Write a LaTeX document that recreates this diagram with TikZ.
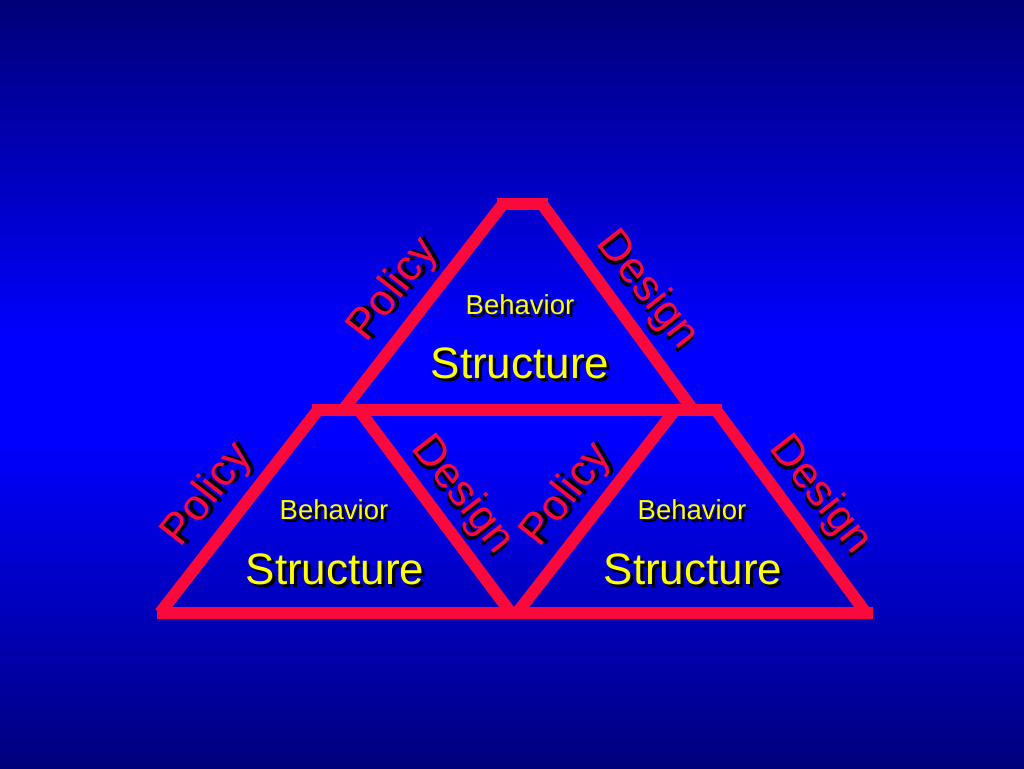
\documentclass[tikz,border=0pt]{standalone}
\usepackage{fontspec}
\setmainfont{Liberation Sans}
\definecolor{navybg}{RGB}{0,0,120}
\definecolor{bluebg}{RGB}{0,0,255}
\definecolor{wallred}{RGB}{250,10,60}
\definecolor{txtyellow}{RGB}{255,255,0}
\tikzset{
  wall/.style={draw=wallred, line width=12pt},
  lbl/.style={inner sep=0pt, outer sep=0pt, anchor=center},
}
\newcommand\shlabel[6]{%
  \node[lbl, text=black, rotate=#3, font=\fontsize{#4}{#4}\selectfont, xshift=3pt, yshift=-3pt] (#1s) at (#2) {#6};
  \node[lbl, text=#5, rotate=#3, font=\fontsize{#4}{#4}\selectfont] (#1) at (#2) {#6};
}
\begin{document}
\begin{tikzpicture}[x=1pt,y=-1pt]
\useasboundingbox (0,0) rectangle (1024,768);
% background gradient as thin bands
\foreach \i in {0,...,191}{
  \pgfmathsetmacro\yy{\i*4}
  \pgfmathsetmacro\tt{max(0,min(100,100*(1-abs(\yy+2-390)/390)*1.15))}
  \fill[bluebg!\tt!navybg] (0,\yy) rectangle (1024,\yy+4.6);
}
% coordinates
\coordinate (tb1) at (497,204);
\coordinate (tb2) at (548,204);
\coordinate (tl1) at (503,204);
\coordinate (tl2) at (343,410);
\coordinate (tr1) at (542,204);
\coordinate (tr2) at (693,410);
\coordinate (mb1) at (312,410);
\coordinate (mb2) at (722,410);
\coordinate (ll1) at (318,410);
\coordinate (ll2) at (160,613);
\coordinate (lr1) at (359,410);
\coordinate (lr2) at (511,613);
\coordinate (rl1) at (675,410);
\coordinate (rl2) at (517,613);
\coordinate (rr1) at (716,410);
\coordinate (rr2) at (866,613);
\coordinate (bb1) at (157,613);
\coordinate (bb2) at (873,613);
% walls
\draw[wall] (tl1) -- (tl2);
\draw[wall] (tr1) -- (tr2);
\draw[wall] (ll1) -- (ll2);
\draw[wall] (lr1) -- (lr2);
\draw[wall] (rl1) -- (rl2);
\draw[wall] (rr1) -- (rr2);
\draw[wall] (tb1) -- (tb2);
\draw[wall] (mb1) -- (mb2);
\draw[wall] (bb1) -- (bb2);
% labels
\shlabel{tbeh}{520,305}{0}{27.5}{txtyellow}{Behavior}
\shlabel{tstr}{520,363}{0}{44}{txtyellow}{Structure}
\shlabel{lbeh}{334,510}{0}{27.5}{txtyellow}{Behavior}
\shlabel{lstr}{335,569}{0}{44}{txtyellow}{Structure}
\shlabel{rbeh}{692,510}{0}{27.5}{txtyellow}{Behavior}
\shlabel{rstr}{693,569}{0}{44}{txtyellow}{Structure}
\shlabel{tpol}{394,290}{52}{44}{wallred}{Policy}
\shlabel{tdes}{647,290}{-52}{44}{wallred}{Design}
\shlabel{lpol}{208,495}{52}{44}{wallred}{Policy}
\shlabel{ldes}{462,495}{-52}{44}{wallred}{Design}
\shlabel{rpol}{567,495}{52}{44}{wallred}{Policy}
\shlabel{rdes}{820,495}{-52}{44}{wallred}{Design}
\end{tikzpicture}
\end{document}
